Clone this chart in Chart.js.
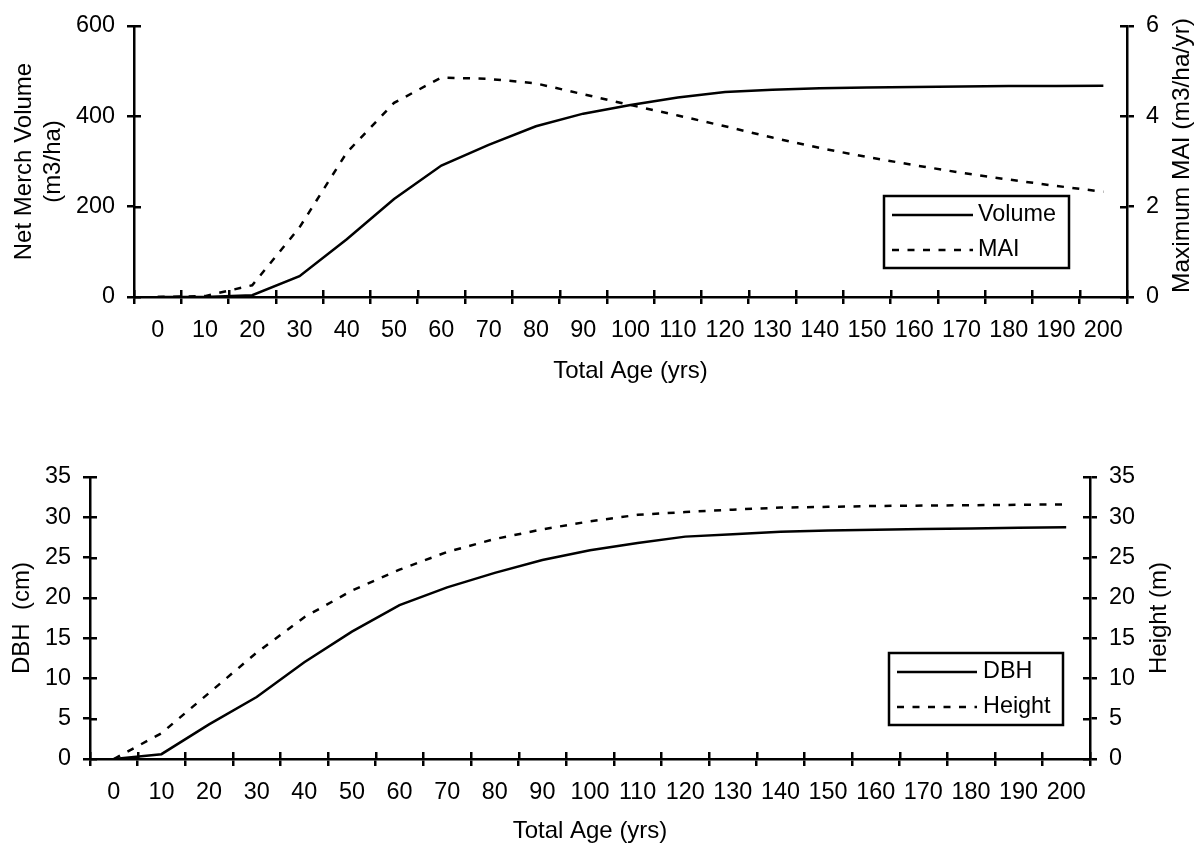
<!DOCTYPE html>
<html>
<head>
<meta charset="utf-8">
<script src="https://cdn.jsdelivr.net/npm/chart.js@4.4.1/dist/chart.umd.min.js"></script>
<style>
html, body { margin: 0; padding: 0; background: #ffffff; }
#c1 { position: absolute; left: 0; top: 0; }
#c2 { position: absolute; left: 0; top: 410px; }
</style>
</head>
<body>
<canvas id="c1" width="1203" height="410"></canvas>
<canvas id="c2" width="1203" height="436"></canvas>
<script>
// ---------- data ----------
const ages = ['0','10','20','30','40','50','60','70','80','90','100','110','120','130','140','150','160','170','180','190','200'];

// top panel
const volume = [0, 0, 4, 46, 128, 217, 291, 337, 378, 406, 425, 442, 454, 459, 462, 464, 465, 466, 467, 467, 468];
const mai    = [0, 0.02, 0.26, 1.54, 3.2, 4.3, 4.86, 4.83, 4.73, 4.49, 4.25, 4.02, 3.78, 3.53, 3.3, 3.1, 2.92, 2.75, 2.6, 2.46, 2.33];
const volumeTicks = [0, 200, 400, 600];
const maiTicks = [0, 2, 4, 6];

// bottom panel
const dbh    = [0, 0.6, 4.3, 7.7, 12.0, 15.8, 19.1, 21.3, 23.1, 24.7, 25.9, 26.8, 27.6, 27.9, 28.2, 28.35, 28.45, 28.55, 28.6, 28.7, 28.75];
const height = [0, 3.2, 8.2, 13.2, 17.6, 20.9, 23.5, 25.7, 27.3, 28.5, 29.5, 30.3, 30.65, 30.95, 31.2, 31.3, 31.4, 31.45, 31.5, 31.55, 31.6];
const dbhTicks = [0, 5, 10, 15, 20, 25, 30, 35];
const heightTicks = [0, 5, 10, 15, 20, 25, 30, 35];

// ---------- styling ----------
const FONT = 'Liberation Sans, Arial, sans-serif';
const FS = 23.4;      // tick labels and legend
const TS = 24;        // axis titles
const LW = 2.5;       // axis / tick / data line width
Chart.defaults.font.family = FONT;
Chart.defaults.font.size = FS;
Chart.defaults.color = '#000';
const DASH = [7, 8.5];

// inner halves of the crossing tick marks
const innerTicks = {
  id: 'innerTicks',
  afterDraw(chart) {
    const ctx = chart.ctx, a = chart.chartArea, L = 7;
    ctx.save();
    ctx.strokeStyle = '#000';
    ctx.lineWidth = LW;
    ctx.beginPath();
    Object.values(chart.scales).forEach(s => {
      if (s.axis === 'x') {
        const n = s.ticks.length;
        const w = s.getPixelForTick(1) - s.getPixelForTick(0);
        for (let i = 0; i <= n; i++) {
          const px = Math.round(i < n ? s.getPixelForTick(i) - w / 2 : s.getPixelForTick(n - 1) + w / 2) + 0.25;
          ctx.moveTo(px, a.bottom);
          ctx.lineTo(px, a.bottom - L);
        }
      } else {
        s.ticks.forEach((t, i) => {
          const py = Math.round(s.getPixelForTick(i)) + 0.25;
          if (s.position === 'left') { ctx.moveTo(a.left, py); ctx.lineTo(a.left + L, py); }
          else { ctx.moveTo(a.right, py); ctx.lineTo(a.right - L, py); }
        });
      }
    });
    ctx.stroke();
    ctx.restore();
  }
};

// right axis title reading upwards
const rightTitle = {
  id: 'rightTitle',
  afterDraw(chart, args, opts) {
    if (!opts.text) return;
    const ctx = chart.ctx, a = chart.chartArea;
    ctx.save();
    ctx.translate(a.right + opts.dx, (a.top + a.bottom) / 2 + (opts.dy || 0));
    ctx.rotate(-Math.PI / 2);
    ctx.font = opts.size + 'px ' + FONT;
    ctx.fillStyle = '#000';
    ctx.textAlign = 'center';
    ctx.textBaseline = 'middle';
    ctx.fillText(opts.text, 0, 0);
    ctx.restore();
  }
};

// boxed legend inside the plot area
const boxLegend = {
  id: 'boxLegend',
  afterDraw(chart, args, o) {
    if (!o.w) return;
    const ctx = chart.ctx, a = chart.chartArea;
    const bx = a.right + o.dx, by = a.bottom + o.dy;
    ctx.save();
    ctx.strokeStyle = '#000';
    ctx.lineWidth = LW;
    ctx.setLineDash([]);
    ctx.strokeRect(Math.round(bx), Math.round(by), o.w, o.h);
    chart.data.datasets.forEach((ds, i) => {
      const y = Math.round(by + o.rows[i]);
      ctx.beginPath();
      ctx.setLineDash(ds.borderDash || []);
      ctx.lineWidth = ds.borderWidth;
      ctx.moveTo(bx + o.lineStart, y);
      ctx.lineTo(bx + o.lineStart + o.lineLen, y);
      ctx.stroke();
      ctx.setLineDash([]);
      ctx.font = FS + 'px ' + FONT;
      ctx.fillStyle = '#000';
      ctx.textAlign = 'left';
      ctx.textBaseline = 'middle';
      ctx.fillText(ds.label, bx + o.lineStart + o.lineLen + o.gap, y);
    });
    ctx.restore();
  }
};

function gridOpts() {
  return { display: true, drawOnChartArea: false, drawTicks: true, tickLength: 7, color: '#000', lineWidth: LW };
}
function borderOpts() {
  return { display: true, color: '#000', width: LW };
}
function setTicks(arr) {
  return s => { s.ticks = arr.map(v => ({ value: v })); };
}

function makeChart(canvas, cfg) {
  return new Chart(canvas, {
    type: 'line',
    data: {
      labels: ages,
      datasets: [
        { label: cfg.names[0], data: cfg.series[0], yAxisID: 'y', borderColor: '#000', borderWidth: LW, pointRadius: 0, tension: 0, fill: false },
        { label: cfg.names[1], data: cfg.series[1], yAxisID: 'y1', borderColor: '#000', borderWidth: LW, borderDash: DASH, pointRadius: 0, tension: 0, fill: false }
      ]
    },
    options: {
      responsive: false,
      animation: false,
      devicePixelRatio: 1,
      layout: { padding: { top: cfg.padTop, left: 0, right: 0, bottom: 0 } },
      plugins: {
        legend: { display: false },
        tooltip: { enabled: false },
        rightTitle: cfg.rightTitle,
        boxLegend: cfg.legend
      },
      scales: {
        x: {
          type: 'category',
          offset: true,
          grid: Object.assign(gridOpts(), { offset: true }),
          border: borderOpts(),
          ticks: { color: '#000', padding: 13, maxRotation: 0, minRotation: 0, autoSkip: false },
          title: { display: true, text: 'Total Age (yrs)', color: '#000', font: { size: TS, lineHeight: 1.2 }, padding: { top: 0, bottom: cfg.xTitlePad } },
          afterFit: s => { s.height = cfg.xHeight; }
        },
        y: {
          position: 'left',
          min: cfg.yMin, max: cfg.yMax,
          afterBuildTicks: setTicks(cfg.yTicks),
          grid: gridOpts(),
          border: borderOpts(),
          ticks: { color: '#000', padding: 12 },
          title: { display: true, text: cfg.yTitle, color: '#000', font: { size: TS, lineHeight: cfg.yTitleLH }, padding: { top: cfg.yTitlePad, bottom: 0 } },
          afterFit: s => { s.width = cfg.yWidth; }
        },
        y1: {
          position: 'right',
          min: cfg.y1Min, max: cfg.y1Max,
          afterBuildTicks: setTicks(cfg.y1Ticks),
          grid: gridOpts(),
          border: borderOpts(),
          ticks: { color: '#000', padding: 12 },
          afterFit: s => { s.width = cfg.y1Width; }
        }
      }
    },
    plugins: [innerTicks, rightTitle, boxLegend]
  });
}

makeChart(document.getElementById('c1'), {
  names: ['Volume', 'MAI'],
  series: [volume, mai],
  padTop: 23,
  xHeight: 113, xTitlePad: 24.6,
  yMin: 0, yMax: 600, yTicks: volumeTicks, yWidth: 134,
  yTitle: ['Net Merch Volume', '(m3/ha)'], yTitleLH: 1.208, yTitlePad: 9.5,
  y1Min: 0, y1Max: 6, y1Ticks: maiTicks, y1Width: 76,
  rightTitle: { text: 'Maximum MAI (m3/ha/yr)', dx: 55, dy: -6, size: 24.5 },
  legend: { dx: -243, dy: -101, w: 185, h: 72, rows: [18.5, 54], lineStart: 8, lineLen: 81, gap: 5 }
});

makeChart(document.getElementById('c2'), {
  names: ['DBH', 'Height'],
  series: [dbh, height],
  padTop: 67,
  xHeight: 87, xTitlePad: 0.6,
  yMin: 0, yMax: 35, yTicks: dbhTicks, yWidth: 90,
  yTitle: 'DBH  (cm)', yTitleLH: 1.2, yTitlePad: 7.5,
  y1Min: 0, y1Max: 35, y1Ticks: heightTicks, y1Width: 113,
  rightTitle: { text: 'Height (m)', dx: 69, dy: 0, size: 24 },
  legend: { dx: -201, dy: -106, w: 174, h: 72, rows: [18.5, 54], lineStart: 8, lineLen: 80, gap: 6 }
});
</script>
</body>
</html>
